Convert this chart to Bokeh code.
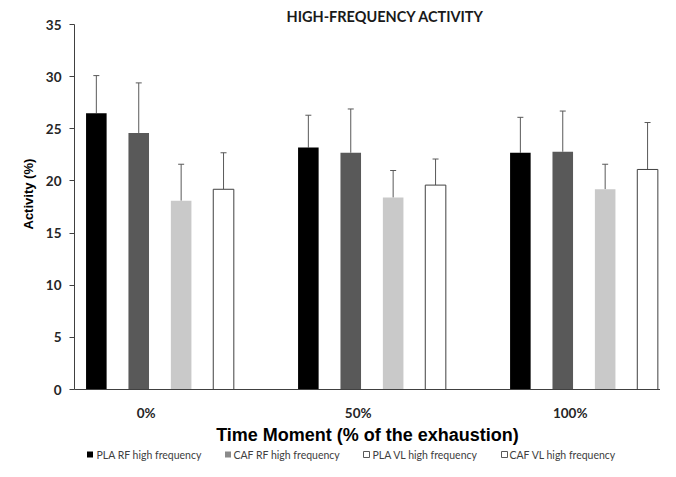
from bokeh.plotting import figure
from bokeh.layouts import column
from bokeh.models import (ColumnDataSource, Range1d, FixedTicker, Whisker, TeeHead, Title)
from bokeh.core.properties import value
from bokeh.embed import file_html
from bokeh.resources import INLINE

# ---- data ----
categories = ["0%", "50%", "100%"]
series_names = ["PLA RF high frequency", "CAF RF high frequency",
                "PLA VL high frequency", "CAF VL high frequency"]
pla_rf = [26.5, 23.2, 22.7]
pla_rf_sd = [3.6, 3.1, 3.4]
caf_rf = [24.6, 22.7, 22.8]
caf_rf_sd = [4.8, 4.2, 3.9]
pla_vl = [18.1, 18.4, 19.2]
pla_vl_sd = [3.5, 2.6, 2.4]
caf_vl = [19.2, 19.6, 21.1]
caf_vl_sd = [3.5, 2.5, 4.5]
y_ticks = [0, 5, 10, 15, 20, 25, 30, 35]

means = [pla_rf, caf_rf, pla_vl, caf_vl]
sds = [pla_rf_sd, caf_rf_sd, pla_vl_sd, caf_vl_sd]

# ---- styles ----
bar_fills = ["#000000", "#595959", "#c9c9c9", "#ffffff"]
bar_lines = [None, None, None, "#404040"]
legend_fills = ["#000000", "#8a8a8a", "#ffffff", "#ffffff"]
legend_lines = [None, None, "#595959", "#595959"]
legend_sq_x = [89.5, 227.5, 366, 504]      # legend layout (screen px)
legend_txt_x = [96, 233, 372, 509]
offsets = [-0.3, -0.1, 0.1, 0.3]
bar_w = 0.097
err_color = "#595959"
txt_color = "#262626"

p = figure(width=660, height=447, output_backend="svg", toolbar_location=None,
           x_range=Range1d(-0.403, 2.361), y_range=Range1d(0, 35),
           min_border_left=74, min_border_right=0, min_border_top=24,
           min_border_bottom=57)
p.outline_line_color = None
p.xgrid.grid_line_color = None
p.ygrid.grid_line_color = None
p.background_fill_color = "white"
p.border_fill_color = "white"

p.title.text = "HIGH-FREQUENCY ACTIVITY"
p.title.align = "left"
p.title.offset = 212
p.title.standoff = 0
p.title.text_font = "Lato"
p.title.text_font_style = "bold"
p.title.text_font_size = "14.5px"
p.title.text_color = "#1a1a1a"

for i in range(4):
    xs = [c + offsets[i] for c in range(len(categories))]
    src = ColumnDataSource(dict(x=xs, top=means[i],
                                upper=[m + s for m, s in zip(means[i], sds[i])],
                                lower=means[i]))
    p.vbar(x="x", top="top", width=bar_w, bottom=0, source=src,
           fill_color=bar_fills[i], line_color=bar_lines[i], line_width=1)
    p.add_layout(Whisker(source=src, base="x", upper="upper", lower="lower",
                         dimension="height", line_color=err_color, line_width=1,
                         upper_head=TeeHead(size=6, line_color=err_color, line_width=1),
                         lower_head=None))

# axes
tick_pos = [c - 0.065 for c in range(len(categories))]
p.xaxis.ticker = FixedTicker(ticks=tick_pos)
p.xaxis.major_label_overrides = {t: lab for t, lab in zip(tick_pos, categories)}
p.xaxis.major_tick_out = 0
p.xaxis.major_tick_in = 0
p.xaxis.minor_tick_line_color = None
p.xaxis.axis_line_color = "#404040"
p.xaxis.major_label_standoff = 15
p.xaxis.major_label_text_font = "Lato"
p.xaxis.major_label_text_font_style = "bold"
p.xaxis.major_label_text_font_size = "13.5px"
p.xaxis.major_label_text_color = txt_color
p.xaxis.axis_label = "Time Moment (% of the exhaustion)"
p.xaxis.axis_label_text_font = "Liberation Sans"
p.xaxis.axis_label_text_font_style = "bold"
p.xaxis.axis_label_text_font_size = "18px"
p.xaxis.axis_label_text_color = "#000000"
p.xaxis.axis_label_standoff = 1

p.yaxis.ticker = FixedTicker(ticks=y_ticks)
p.yaxis.major_tick_out = 5
p.yaxis.major_tick_in = 0
p.yaxis.minor_tick_line_color = None
p.yaxis.axis_line_color = "#404040"
p.yaxis.major_tick_line_color = "#404040"
p.yaxis.major_label_standoff = 8
p.yaxis.major_label_text_font = "Lato"
p.yaxis.major_label_text_font_style = "bold"
p.yaxis.major_label_text_font_size = "13.5px"
p.yaxis.major_label_text_color = txt_color

p.add_layout(Title(text="Activity (%)", align="left", offset=160, standoff=13,
                   text_font="Liberation Sans", text_font_style="bold",
                   text_font_size="13px", text_color="#000000"), "left")

# legend strip
leg = figure(width=660, height=14, output_backend="svg", toolbar_location=None,
             x_range=Range1d(74, 660), y_range=Range1d(0, 1),
             x_axis_type=None, y_axis_type=None, min_border=0)
leg.outline_line_color = None
leg.grid.grid_line_color = None
leg.rect(x=legend_sq_x, y=[0.5] * 4, width=6, height=6,
         width_units="screen", height_units="screen",
         fill_color=legend_fills, line_color=[c or "#000000" for c in legend_lines],
         line_alpha=[0 if c is None else 1 for c in legend_lines])
leg.text(x=legend_txt_x, y=[0.5] * 4, text=series_names,
         text_baseline="middle", text_align="left",
         text_font=value("Lato"), text_font_size=value("10.5px"),
         text_color="#404040")

open("out.html", "w").write(file_html(column(p, leg), INLINE))
